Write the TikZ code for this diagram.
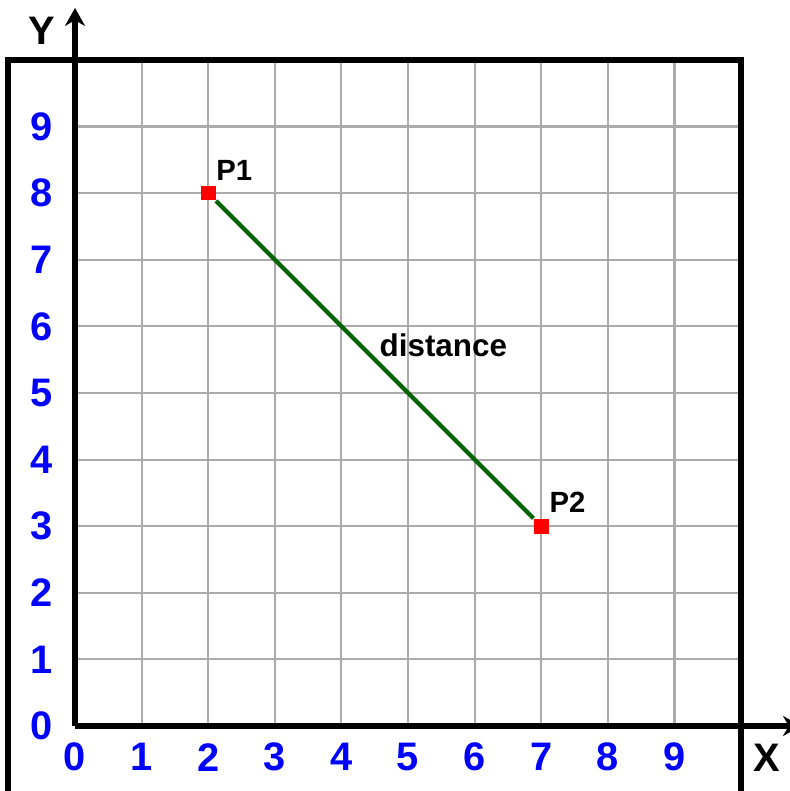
\documentclass[tikz,border=0pt]{standalone}
\usepackage{fontspec}
\setmainfont{Liberation Sans}
\usepackage{xcolor}
\usetikzlibrary{arrows.meta,positioning}

\definecolor{tickblue}{RGB}{0,0,255}
\definecolor{distgreen}{RGB}{0,100,0}

\begin{document}
\begin{tikzpicture}[
  font=\bfseries,
  >={Stealth[length=0.27cm,width=0.3cm]},
  gridline/.style={draw=black!33, line width=0.9pt},
  frame/.style={draw=black, line width=2.6pt},
  axis/.style={->, black, line width=2.6pt},
  tick/.style={text=tickblue, inner sep=0pt, font=\bfseries\fontsize{17}{20}\selectfont},
  axlabel/.style={inner sep=0pt, font=\bfseries\fontsize{17}{20}\selectfont},
  pt/.style={fill=red, inner sep=0pt, minimum size=0.22cm},
  plabel/.style={inner sep=0pt, font=\bfseries\fontsize{12.5}{15}\selectfont},
  dist/.style={draw=distgreen, line width=1.8pt}
]
  \useasboundingbox (-1.126,-0.976) rectangle (10.72,10.90);

  % Grid
  \foreach \i in {1,...,9} {
    \draw[gridline] (\i,0) -- (\i,10);
    \draw[gridline] (0,\i) -- (10,\i);
  }

  % Frame and axes
  \draw[frame] (-1,-1.2) rectangle (10,10);
  \coordinate (o) at (0,0);
  \coordinate (xend) at (10.9,0);
  \coordinate (yend) at (0,10.78);
  \draw[axis] (o) -- (xend);
  \draw[axis] (o) -- (yend);
  \node[axlabel] (xlab) at (10.38,-0.48) {X};
  \node[axlabel] (ylab) at (-0.5,10.44) {Y};

  % Tick labels
  \foreach \i in {0,...,9} {
    \node[tick] (xt\i) at (\i,-0.47) {\i};
    \node[tick] (yt\i) at (-0.5,\i) {\i};
  }

  % Points and distance
  \node[pt] (p1) at (2,8) {};
  \node[pt] (p2) at (7,3) {};
  \draw[dist] (p1) -- (p2);
  \node[plabel, above right=0.06cm and 0cm of p1] (p1lab) {P1};
  \node[plabel, above right=0.08cm and 0cm of p2] (p2lab) {P2};
  \node[plabel, anchor=base, font=\bfseries\fontsize{13.4}{16}\selectfont] (dlab) at (5.53,5.54) {distance};
\end{tikzpicture}
\end{document}
